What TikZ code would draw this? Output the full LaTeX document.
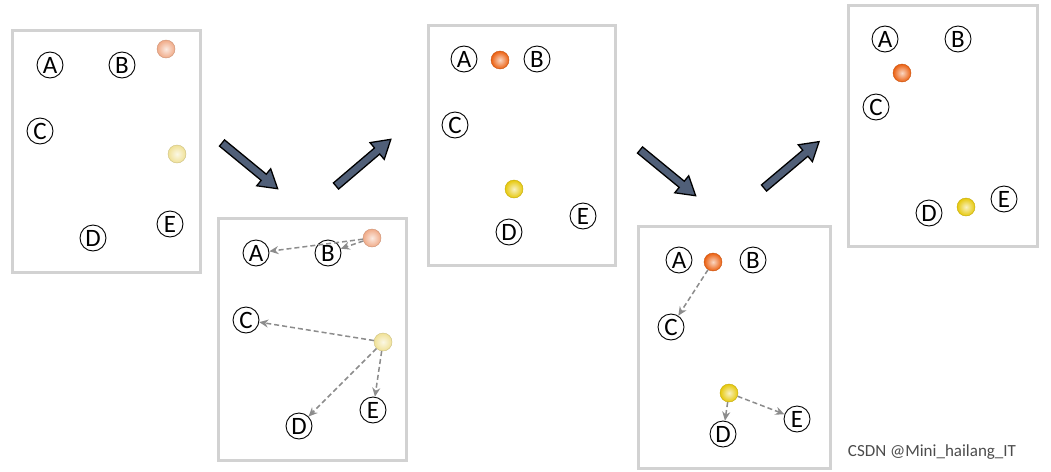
\documentclass[tikz,border=0pt]{standalone}
\usepackage{fontspec}
\setmainfont{Carlito}
\usetikzlibrary{arrows.meta}
\begin{document}
\begin{tikzpicture}[x=1pt,y=-1pt,
  panel/.style={draw=gray!35,line width=3pt,fill=white},
  lab/.style={circle,draw,line width=0.9pt,minimum size=26pt,inner sep=0pt,font=\fontsize{25}{25}\selectfont},
  ball/.style={circle,minimum size=18pt,inner sep=0pt,draw=#1!85!black,line width=0.4pt,inner color=#1!25!white,outer color=#1},
  dasharr/.style={draw=gray!90,dash pattern=on 5pt off 3pt,line width=1.5pt,-{Stealth[length=9pt,width=8pt]}}]
\useasboundingbox (0,0) rectangle (1051,471);
\fill[white] (0,0) rectangle (1051,471);
\definecolor{peach}{RGB}{240,170,135}
\definecolor{pale}{RGB}{240,225,150}
\definecolor{orng}{RGB}{235,95,15}
\definecolor{ylw}{RGB}{230,200,10}
\definecolor{slate}{RGB}{80,95,120}
% panels
\draw[panel] (12,30) rectangle (200,272);
\draw[panel] (218,218) rectangle (406,460);
\draw[panel] (428,25) rectangle (615,265);
\draw[panel] (638,226) rectangle (830,468);
\draw[panel] (848,5) rectangle (1037,246);
% big arrows
\foreach \sx/\sy/\ang in {222/143/-39.4, 336/186/40.4, 640/150/-39.4, 764/188/40.1}{
  \begin{scope}[shift={(\sx,\sy)},rotate=\ang]
   \draw[fill=slate,draw=black,line width=1.3pt] (0,-4)--(54,-4)--(54,-11)--(72,0)--(54,11)--(54,4)--(0,4)--cycle;
  \end{scope}}
% P1
\node[lab] (a1) at (50,65) {A}; \node[lab] (b1) at (122,65) {B};
\node[lab] (c1) at (40,131) {C}; \node[lab] (d1) at (93,238) {D};
\node[lab] (e1) at (170,224) {E};
\node[ball=peach] (p1) at (166,49) {}; \node[ball=pale] (q1) at (177,154) {};
% P2
\node[lab] (a2) at (256,253) {A}; \node[lab] (b2) at (328,253) {B};
\node[lab] (c2) at (246,320) {C}; \node[lab] (d2) at (299,426) {D};
\node[lab] (e2) at (373,410) {E};
\node[ball=peach] (p2) at (372,238) {}; \node[ball=pale] (q2) at (383,342) {};
\draw[dasharr] (p2) -- (a2); \draw[dasharr] (p2) -- (b2);
\draw[dasharr] (q2) -- (c2); \draw[dasharr] (q2) -- (d2); \draw[dasharr] (q2) -- (e2);
% P3
\node[lab] (a3) at (464,59) {A}; \node[lab] (b3) at (537,59) {B};
\node[lab] (c3) at (455,125) {C}; \node[lab] (d3) at (509,232) {D};
\node[lab] (e3) at (583,216) {E};
\node[ball=orng] (p3) at (500,60) {}; \node[ball=ylw] (q3) at (514,189) {};
% P4
\node[lab] (a4) at (679,260) {A}; \node[lab] (b4) at (753,260) {B};
\node[lab] (c4) at (671,327) {C}; \node[lab] (d4) at (723,434) {D};
\node[lab] (e4) at (797,419) {E};
\node[ball=orng] (p4) at (713,262) {}; \node[ball=ylw] (q4) at (729,393) {};
\draw[dasharr] (p4) -- (c4); \draw[dasharr] (q4) -- (d4); \draw[dasharr] (q4) -- (e4);
% P5
\node[lab] (a5) at (885,39) {A}; \node[lab] (b5) at (958,39) {B};
\node[lab] (c5) at (876,107) {C}; \node[lab] (d5) at (929,213) {D};
\node[lab] (e5) at (1004,199) {E};
\node[ball=orng] (p5) at (902,73) {}; \node[ball=ylw] (q5) at (966,207) {};
\node[text=black!70,font=\fontsize{17}{17}\selectfont] (wm) at (932,452) {CSDN @Mini\_hailang\_IT};
\end{tikzpicture}
\end{document}
